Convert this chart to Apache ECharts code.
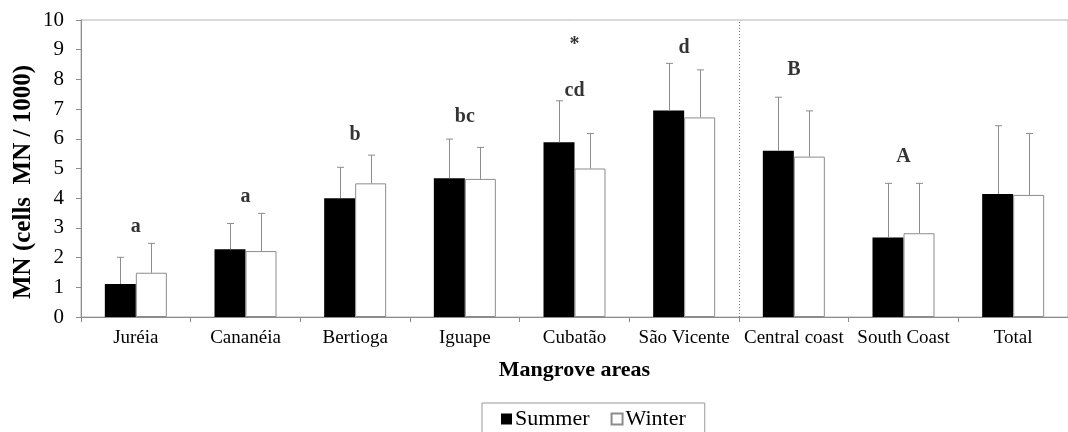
<!DOCTYPE html>
<html>
<head>
<meta charset="utf-8">
<script src="https://cdn.jsdelivr.net/npm/echarts@6/dist/echarts.min.js"></script>
<style>
html,body{margin:0;padding:0;background:#fff;}
#chart{width:1068px;height:432px;}
</style>
</head>
<body>
<div id="chart"></div>
<script>
const categories = ['Juréia','Cananéia','Bertioga','Iguape','Cubatão','São Vicente','Central coast','South Coast','Total'];
const summerMean = [1.11, 2.28, 4.00, 4.67, 5.88, 6.95, 5.60, 2.68, 4.14];
const summerSD   = [0.90, 0.87, 1.04, 1.32, 1.40, 1.59, 1.80, 1.82, 2.30];
const winterMean = [1.49, 2.22, 4.50, 4.65, 5.00, 6.72, 5.40, 2.82, 4.11];
const winterSD   = [0.99, 1.27, 0.95, 1.06, 1.18, 1.60, 1.54, 1.68, 2.07];
const yTicks = [0,1,2,3,4,5,6,7,8,9,10];
const annoCat    = [0, 1, 2, 3, 4, 4, 5, 6, 7];
const annoLabel  = ['a','a','b','bc','*','cd','d','B','A'];
const annoY      = [3.03, 4.04, 6.13, 6.73, 9.16, 7.62, 9.06, 8.32, 5.40];
const groupBreakAfter = 5;

const FONT = '"Liberation Serif", "Times New Roman", serif';
const AXIS_GRAY = '#8c8c8c';

function errorSeries(name, means, sds, offset) {
  return {
    type: 'custom',
    name: name + ' SD',
    coordinateSystem: 'cartesian2d',
    silent: true,
    z: 3,
    data: means.map((m, i) => [i, m, sds[i]]),
    renderItem: function (params, api) {
      const i = api.value(0), m = api.value(1), sd = api.value(2);
      const b = api.coord([i, m]);
      const t = api.coord([i, m + sd]);
      const x = Math.round(b[0] + offset) + 0.5;
      return {
        type: 'group',
        children: [
          {type: 'line', shape: {x1: x, y1: b[1], x2: x, y2: t[1]}, style: {stroke: AXIS_GRAY, lineWidth: 1}},
          {type: 'line', shape: {x1: x - 3.5, y1: t[1], x2: x + 3.5, y2: t[1]}, style: {stroke: AXIS_GRAY, lineWidth: 1}}
        ]
      };
    }
  };
}

const chart = echarts.init(document.getElementById('chart'), null, {renderer: 'canvas'});
chart.setOption({
  animation: false,
  backgroundColor: '#fff',
  textStyle: {fontFamily: FONT, color: '#000'},
  grid: {left: 81, top: 20, width: 992, height: 297, show: true, borderColor: '#b4b4b4', borderWidth: 1, backgroundColor: 'transparent'},
  legend: {
    data: ['Summer', 'Winter'],
    left: 482, top: 403,
    padding: [5, 19],
    itemGap: 21,
    itemWidth: 11, itemHeight: 11,
    icon: 'rect',
    borderColor: '#999', borderWidth: 1,
    textStyle: {fontFamily: FONT, fontSize: 22, color: '#000', padding: [0, 0, 0, -2]}
  },
  xAxis: {
    type: 'category',
    data: categories,
    name: 'Mangrove areas',
    nameLocation: 'middle',
    nameGap: 42,
    nameTextStyle: {fontFamily: FONT, fontSize: 22, fontWeight: 'bold', color: '#000'},
    axisLine: {show: true, lineStyle: {color: AXIS_GRAY, width: 1}},
    axisTick: {show: true, length: 5, alignWithLabel: false, lineStyle: {color: AXIS_GRAY}},
    axisLabel: {interval: 0, margin: 12, fontFamily: FONT, fontSize: 19, color: '#000'}
  },
  yAxis: {
    type: 'value',
    min: 0, max: 10, interval: 1,
    name: 'MN (cells  MN / 1000)',
    nameLocation: 'middle',
    nameGap: 45,
    nameMoveOverlap: false,
    nameTextStyle: {fontFamily: FONT, fontSize: 25, fontWeight: 'bold', color: '#000', padding: [0, 27, 0, 0]},
    axisLine: {show: true, lineStyle: {color: AXIS_GRAY, width: 1}},
    axisTick: {show: true, length: 5, lineStyle: {color: AXIS_GRAY}},
    splitLine: {show: false},
    axisLabel: {margin: 17, fontFamily: FONT, fontSize: 21, color: '#000',
      formatter: v => yTicks.includes(v) ? String(v) : ''}
  },
  series: [
    {
      name: 'Summer', type: 'bar', data: summerMean,
      barWidth: 31, barGap: '0%',
      itemStyle: {color: '#000', borderColor: '#000', borderWidth: 0}
    },
    {
      name: 'Winter', type: 'bar', data: winterMean,
      barWidth: 31, barGap: '0%',
      itemStyle: {color: '#fff', borderColor: AXIS_GRAY, borderWidth: 1}
    },
    errorSeries('Summer', summerMean, summerSD, -15.5),
    errorSeries('Winter', winterMean, winterSD, 15.5),
    {
      type: 'custom',
      name: 'separator',
      coordinateSystem: 'cartesian2d',
      silent: true,
      data: [[groupBreakAfter]],
      renderItem: function (params, api) {
        const i = api.value(0);
        const c0 = api.coord([i, 0]);
        const c1 = api.coord([i, 10]);
        const w = api.size([1, 0])[0];
        const x = Math.round(c0[0] + w / 2) + 0.5;
        return {type: 'line', shape: {x1: x, y1: c0[1], x2: x, y2: c1[1]},
          style: {stroke: '#777', lineWidth: 1, lineDash: [1, 2]}};
      }
    },
    {
      type: 'scatter',
      name: 'letters',
      silent: true,
      symbolSize: 1,
      itemStyle: {color: 'transparent'},
      data: annoCat.map((c, k) => [c, annoY[k], annoLabel[k]]),
      label: {
        show: true, position: 'inside',
        formatter: p => p.value[2],
        fontFamily: FONT, fontSize: 20, fontWeight: 'bold', color: '#000'
      }
    }
  ]
});
</script>
</body>
</html>
